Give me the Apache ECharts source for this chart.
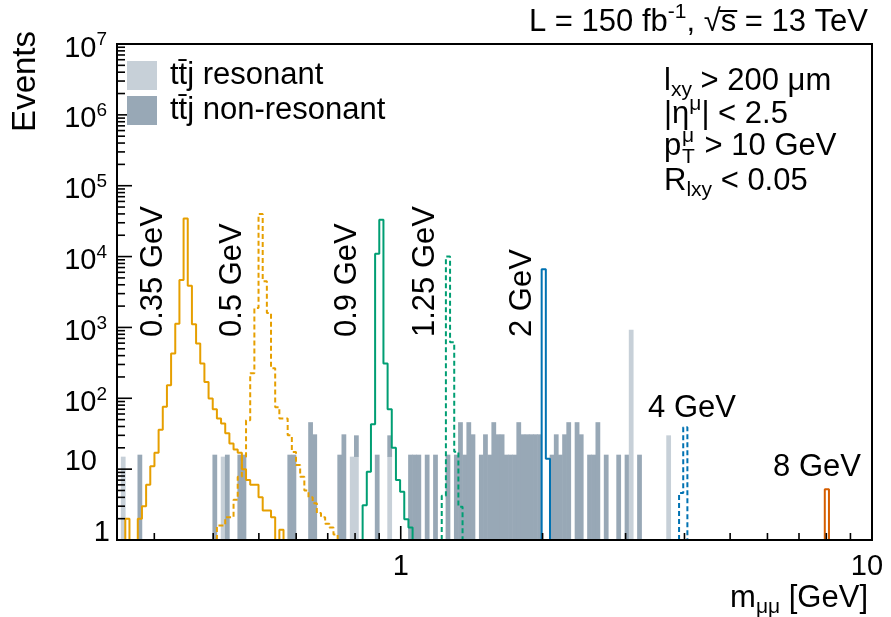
<!DOCTYPE html>
<html>
<head>
<meta charset="utf-8">
<script src="https://cdn.jsdelivr.net/npm/echarts@6/dist/echarts.min.js"></script>
<style>
html, body { margin: 0; padding: 0; background: #fff; }
#chart { width: 891px; height: 617px; }
</style>
</head>
<body>
<div id="chart"></div>
<script>
// log-uniform binning of m_mumu: lower edge of bin k = BIN_LO * 10^(k * BIN_DLOG)
var BIN_LO = 0.2551, BIN_DLOG = 0.008835;

// signal histograms (first bin index + events per bin)
var sig035 = { first: 1, counts: [2, 0, 0, 2, 3, 6, 11, 17, 36, 76, 153, 430, 1130, 4660, 34500, 3860, 1110, 595, 310, 170, 99, 70, 52, 44, 32, 23, 19, 17, 10, 7, 6, 6, 4, 2.6, 2.6, 2.1, 0, 1.4] };
var sig05 = { first: 23, counts: [1.6, 1.6, 2.1, 2.1, 3.7, 7.8, 15, 49, 226, 1880, 40000, 4500, 1600, 265, 75, 52, 52, 30, 17.5, 11.4, 7.8, 5, 4, 3.3, 2.4, 2.1, 1.7, 1.5, 1.2] };
var sig09 = { first: 58, counts: [3.1, 9.2, 43, 11000, 33000, 310, 70, 20, 7, 4.8, 1.96, 1.5] };
var sig125 = { first: 77, counts: [4.2, 10000, 620, 17.6, 2.95] };
var sig2 = { first: 101, counts: [6600, 14] };
var sig4 = { first: 134, counts: [4.6, 39] };
var sig8 = { first: 169, counts: [5.2] };

// ttj backgrounds: [bin, events]
var resonant = [[0, 15], [24, 15], [55, 15], [56, 15], [64, 15], [122, 930], [131, 30]];
var nonResonant = [[4, 15], [22, 15], [25, 15], [28, 15], [29, 15], [40, 15], [41, 15], [45, 45], [46, 30],
  [52, 15], [53, 30], [56, 15], [61, 15], [64, 15], [69, 15], [70, 15], [71, 15], [73, 15], [75, 15], [78, 15],
  [80, 15], [81, 45], [82, 15], [83, 45], [84, 30], [86, 15], [87, 30], [88, 15], [89, 45], [90, 30], [91, 30],
  [92, 15], [93, 15], [94, 15], [95, 45], [96, 30], [97, 30], [98, 30], [99, 30], [100, 30],
  [103, 15], [104, 30], [105, 15], [106, 30], [107, 45], [109, 45], [110, 30], [112, 15], [113, 15], [114, 45],
  [116, 15], [119, 15], [121, 15], [124, 15]];

// axis ticks and labels
var xMajorTicks = [1, 10];
var xMinorTicks = [0.3, 0.4, 0.5, 0.6, 0.7, 0.8, 0.9, 2, 3, 4, 5, 6, 7, 8, 9];
var xTickLabels = ['1', '10'];
var yMajorTicks = [1, 10, 1e2, 1e3, 1e4, 1e5, 1e6, 1e7];
var yTickLabels = ['1', '10', '10^2', '10^3', '10^4', '10^5', '10^6', '10^7'];
var yMinorSteps = [2, 3, 4, 5, 6, 7, 8, 9];

var LIGHT = '#c7d0d8', DARK = '#98a8b6';
var ORANGE = '#e69f00', GREEN = '#009e73', BLUE = '#0072b2', RED = '#d55e00';
var FONT = '"Liberation Sans", Arial, Helvetica, sans-serif';

function edge(k) { return BIN_LO * Math.pow(10, k * BIN_DLOG); }

function histLine(h) {
  var pts = [[edge(h.first), 1]];
  h.counts.forEach(function (c, i) {
    var v = Math.max(c, 1); // empty bins sit on the frame
    pts.push([edge(h.first + i), v]);
    pts.push([edge(h.first + i + 1), v]);
  });
  pts.push([edge(h.first + h.counts.length), 1]);
  return pts;
}

// merge both backgrounds per bin: [bin, resonant, nonResonant]
var bgMap = {};
resonant.forEach(function (b) { bgMap[b[0]] = [b[0], b[1], 0]; });
nonResonant.forEach(function (b) {
  if (bgMap[b[0]]) bgMap[b[0]][2] = b[1]; else bgMap[b[0]] = [b[0], 0, b[1]];
});
var bgBins = Object.keys(bgMap).map(function (k) { return bgMap[k]; });

var yMinorTicks = [];
yMajorTicks.slice(0, -1).forEach(function (d) {
  yMinorSteps.forEach(function (s) { yMinorTicks.push(d * s); });
});

function renderBg(params, api) {
  var b = bgBins[params.dataIndex];
  var x0 = api.coord([edge(b[0]), 1])[0] - 0.3;
  var x1 = api.coord([edge(b[0] + 1), 1])[0] + 0.3;
  var y1 = api.coord([1, 1])[1];
  var kids = [];
  if (b[1] > 0) {
    var yr = api.coord([1, b[1]])[1];
    kids.push({ type: 'rect', shape: { x: x0, y: yr, width: x1 - x0, height: y1 - yr }, style: { fill: LIGHT } });
  }
  if (b[2] > 0) {
    var base = b[1] > 0 ? b[1] : 1;
    var yb = api.coord([1, base])[1];
    var yt = api.coord([1, base + b[2]])[1];
    kids.push({ type: 'rect', shape: { x: x0, y: yt, width: x1 - x0, height: yb - yt + 0.3 }, style: { fill: DARK } });
  }
  return { type: 'group', children: kids };
}

function renderXTick(params, api) {
  var p = api.coord([api.value(0), 1]);
  return { type: 'line', shape: { x1: p[0], y1: p[1], x2: p[0], y2: p[1] - api.value(1) }, style: { stroke: '#000', lineWidth: 1.6 } };
}
function renderYTick(params, api) {
  var p = api.coord([0.25, api.value(1)]);
  return { type: 'line', shape: { x1: p[0], y1: p[1], x2: p[0] + api.value(2), y2: p[1] }, style: { stroke: '#000', lineWidth: 1.6 } };
}
function renderXLabel(params, api) {
  var p = api.coord([api.value(0), 1]);
  var last = params.dataIndex === xTickLabels.length - 1;
  return { type: 'text', x: p[0] - (last ? 5 : 0), y: p[1] + 27, style: { text: xTickLabels[params.dataIndex], font: '29px ' + FONT, fill: '#000', align: 'center', verticalAlign: 'middle' } };
}
function renderYLabel(params, api) {
  var p = api.coord([0.25, api.value(1)]);
  var t = yTickLabels[params.dataIndex];
  if (t.indexOf('^') < 0) {
    var dx = t === '1' ? -7 : -20;
    return { type: 'text', x: p[0] + dx, y: p[1] - 7, style: { text: t, font: '29px ' + FONT, fill: '#000', align: 'right', verticalAlign: 'middle' } };
  }
  var parts = t.split('^');
  return { type: 'text', x: p[0] - 10, y: p[1] + 4.5, style: {
    text: '{b|' + parts[0] + '}{p|' + parts[1] + '}', align: 'right', verticalAlign: 'middle',
    rich: { b: { fontSize: 29, fontFamily: FONT, lineHeight: 36, fill: '#000' },
            p: { fontSize: 19, fontFamily: FONT, lineHeight: 19, verticalAlign: 'top', fill: '#000' } } } };
}

function sigSeries(h, color, dashed) {
  return { type: 'line', data: histLine(h), symbol: 'none', z: 5, silent: true,
    lineStyle: { color: color, width: 2, type: dashed ? [5, 3] : 'solid' } };
}

var RICH = {
  n: { fontSize: 31, fontFamily: FONT, lineHeight: 40, fill: '#000' },
  sb: { fontSize: 21, fontFamily: FONT, lineHeight: 20, verticalAlign: 'bottom', fill: '#000' },
  sp: { fontSize: 21, fontFamily: FONT, lineHeight: 20, verticalAlign: 'top', fill: '#000' }
};
function txt(x, y, text, extra) {
  var st = { text: text, rich: RICH, fill: '#000', font: '31px ' + FONT, align: 'left', verticalAlign: 'middle' };
  var el = { type: 'text', x: x, y: y, z: 20, style: st };
  if (extra) {
    if (extra.align) st.align = extra.align;
    if (extra.rotation) el.rotation = extra.rotation;
  }
  return el;
}
function small(x, y, text) {
  return { type: 'text', x: x, y: y, z: 20, style: { text: text, fill: '#000', font: '21px ' + FONT, align: 'left', verticalAlign: 'middle' } };
}

var graphics = [
  txt(868, 22, '{n|L = 150 fb}{sp|-1}{n|, √s̅ = 13 TeV}', { align: 'right' }),
  { type: 'text', x: 26, y: 31, z: 20, rotation: Math.PI / 2,
    style: { text: 'Events', fill: '#000', font: '33px ' + FONT, align: 'right', verticalAlign: 'middle' } },
  txt(868, 598, '{n|m}{sb|μμ}{n| [GeV]}', { align: 'right' }),
  { type: 'rect', z: 20, shape: { x: 127, y: 61, width: 30, height: 29 }, style: { fill: LIGHT } },
  { type: 'rect', z: 20, shape: { x: 127, y: 96, width: 30, height: 29 }, style: { fill: DARK } },
  txt(170, 75, '{n|tt\u0304j resonant}'),
  txt(170, 110, '{n|tt\u0304j non-resonant}'),
  txt(664, 81, '{n|l}{sb|xy}{n| > 200 μm}'),
  txt(664, 114, '{n||η}{sp|μ}{n|| < 2.5}'),
  txt(664, 146, '{n|p}'),
  small(682, 136, 'μ'),
  small(682, 157, 'T'),
  txt(696, 146, '{n| > 10 GeV}'),
  txt(664, 181, '{n|R}{sb|lxy}{n| < 0.05}'),
  txt(153, 337, '{n|0.35 GeV}', { rotation: Math.PI / 2 }),
  txt(232, 337, '{n|0.5 GeV}', { rotation: Math.PI / 2 }),
  txt(347, 337, '{n|0.9 GeV}', { rotation: Math.PI / 2 }),
  txt(425, 337, '{n|1.25 GeV}', { rotation: Math.PI / 2 }),
  txt(522, 337, '{n|2 GeV}', { rotation: Math.PI / 2 }),
  txt(692, 408, '{n|4 GeV}', { align: 'center' }),
  txt(817, 467, '{n|8 GeV}', { align: 'center' })
];

var myChart = echarts.init(document.getElementById('chart'));
var option = {
  animation: false,
  backgroundColor: '#fff',
  grid: { left: 117, right: 19, top: 44, bottom: 77, show: true, borderColor: '#000', borderWidth: 2, backgroundColor: 'transparent' },
  xAxis: { type: 'log', logBase: 10, min: 0.25, max: 10, z: 10,
    axisLine: { show: true, lineStyle: { color: '#000', width: 2 } },
    axisTick: { show: false }, axisLabel: { show: false }, splitLine: { show: false } },
  yAxis: { type: 'log', logBase: 10, min: 1, max: 1e7, z: 10,
    axisLine: { show: true, lineStyle: { color: '#000', width: 2 } },
    axisTick: { show: false }, axisLabel: { show: false }, splitLine: { show: false } },
  series: [
    { type: 'custom', renderItem: renderBg, z: 2, silent: true,
      data: bgBins.map(function (b) { return [edge(b[0]), b[1] + b[2]]; }) },
    sigSeries(sig035, ORANGE, false),
    sigSeries(sig05, ORANGE, true),
    sigSeries(sig09, GREEN, false),
    sigSeries(sig125, GREEN, true),
    sigSeries(sig2, BLUE, false),
    sigSeries(sig4, BLUE, true),
    sigSeries(sig8, RED, false),
    { type: 'custom', renderItem: renderXTick, z: 12, silent: true,
      data: xMajorTicks.map(function (v) { return [v, 14]; }).concat(xMinorTicks.map(function (v) { return [v, 7]; })) },
    { type: 'custom', renderItem: renderYTick, z: 12, silent: true, encode: { x: 0, y: 1 },
      data: yMajorTicks.map(function (v) { return [0.25, v, 15]; }).concat(yMinorTicks.map(function (v) { return [0.25, v, 8]; })) },
    { type: 'custom', renderItem: renderXLabel, z: 12, silent: true,
      data: xMajorTicks.map(function (v) { return [v, 1]; }) },
    { type: 'custom', renderItem: renderYLabel, z: 12, silent: true, encode: { x: 0, y: 1 },
      data: yMajorTicks.map(function (v) { return [0.25, v]; }) }
  ],
  graphic: { elements: graphics }
};
myChart.setOption(option);
</script>
</body>
</html>
